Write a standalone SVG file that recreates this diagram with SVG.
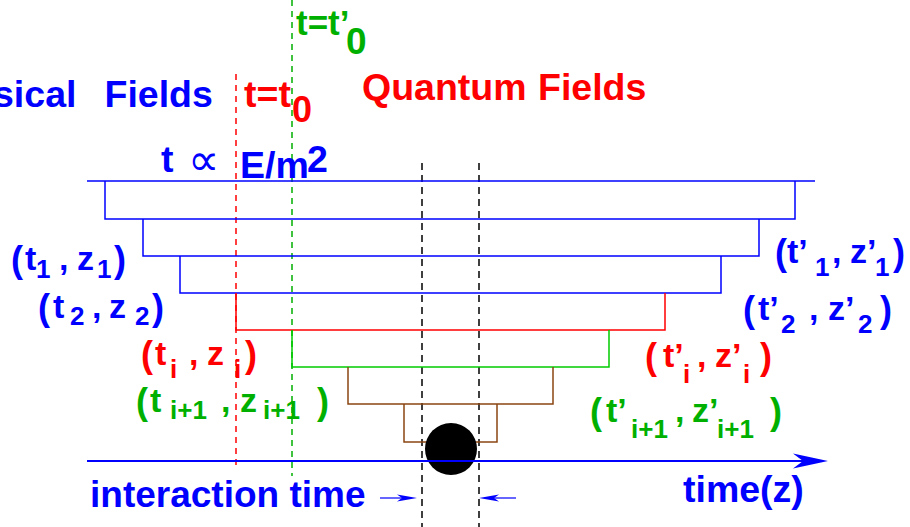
<svg xmlns="http://www.w3.org/2000/svg" width="910" height="527" viewBox="0 0 910 527">
<style>
text{font-family:"Liberation Sans",Arial,Helvetica,sans-serif;font-weight:bold}
.b{fill:#0000ff}.r{fill:#ff0000}.g{fill:#00b000}
.L{font-size:34px}.P{font-size:36px}.S{font-size:26px}.T{font-size:37.5px}
.lb{stroke:#0000ff;fill:none;stroke-width:1.5}
.lr{stroke:#ff0000;fill:none;stroke-width:1.5}
.lg{stroke:#00cc00;fill:none;stroke-width:1.5}
.ln{stroke:#8b4513;fill:none;stroke-width:1.5}
.dr{stroke:#ff0000;stroke-width:1.5;stroke-dasharray:6 5;fill:none}
.dg{stroke:#00b000;stroke-width:1.5;stroke-dasharray:6 5;fill:none}
.dk{stroke:#000;stroke-width:1.5;stroke-dasharray:7 5;fill:none}
</style>
<rect width="910" height="527" fill="#fff"/>
<g id="connectors">
<line class="dr" x1="236" y1="74" x2="236" y2="466"/>
<line class="dg" x1="292" y1="0" x2="292" y2="476"/>
<line class="dk" x1="422" y1="163" x2="422" y2="527"/>
<line class="dk" x1="479" y1="163" x2="479" y2="527"/>
<line class="lb" x1="87" y1="181" x2="815" y2="181" stroke-width="2"/>
<polyline class="lb" points="105,181 105,219 795,219 795,181"/>
<polyline class="lb" points="143,219 143,256 759,256 759,219"/>
<polyline class="lb" points="180,256 180,293 721,293 721,256"/>
<polyline class="lr" points="236,293 236,330 665,330 665,293"/>
<polyline class="lg" points="292,330 292,367 609,367 609,330"/>
<polyline class="ln" points="348,367 348,404 553,404 553,367"/>
<polyline class="ln" points="404,404 404,442 497,442 497,404"/>
</g>
<g id="particle"><circle cx="451" cy="449" r="26" fill="#000"/></g>
<g id="time-axis">
<line x1="87" y1="461" x2="806" y2="461" stroke="#0000ff" stroke-width="2"/>
<polygon points="828,461 793,453.5 803,461 793,468.5" fill="#0000ff"/>
<line x1="380" y1="498" x2="405" y2="498" stroke="#0000ff" stroke-width="1.2"/>
<polygon points="417,498 397,494.5 402,498 397,501.5" fill="#0000ff"/>
<line x1="491" y1="498" x2="516" y2="498" stroke="#0000ff" stroke-width="1.2"/>
<polygon points="479,498 499,494.5 494,498 499,501.5" fill="#0000ff"/>
</g>
<g id="titles">
<text class="b T" x="-7" y="107">sical</text>
<text class="b T" x="104.5" y="107">Fields</text>
<text class="r T" x="362" y="100">Quantum</text>
<text class="r T" x="538" y="100">Fields</text>
<text class="r T" x="244" y="107">t=t</text>
<text class="r" style="font-size:36px" x="292" y="122">0</text>
<text class="g" style="font-size:35px" x="296" y="35">t=t’</text>
<text class="g" style="font-size:37px" x="346" y="54">0</text>
<text class="b T" x="161" y="172">t</text>
<text class="b" style="font-family:'DejaVu Sans',sans-serif;font-weight:normal;font-size:44px" x="188" y="175">∝</text>
<text class="b T" x="240" y="178">E/m</text>
<text class="b T" x="307" y="172">2</text>
<text class="b" style="font-size:37px" x="90" y="507">interaction time</text>
<text class="b T" x="683" y="502">time(z)</text>
</g>
<g id="label-t1z1" class="b">
<text class="P" x="11" y="272">(</text><text class="L" x="25" y="270">t</text><text class="S" x="36" y="278">1</text>
<text class="L" x="59" y="270">,</text><text class="L" x="77" y="270">z</text><text class="S" x="97" y="278">1</text><text class="P" x="114" y="272">)</text>
</g>
<g id="label-t2z2" class="b">
<text class="P" x="38" y="320">(</text><text class="L" x="53" y="318">t</text><text class="S" x="70" y="325">2</text>
<text class="L" x="92" y="318">,</text><text class="L" x="109" y="318">z</text><text class="S" x="135" y="325">2</text><text class="P" x="152" y="320">)</text>
</g>
<g id="label-tizi" class="r">
<text class="P" x="141" y="367">(</text><text class="L" x="155" y="365">t</text><text class="S" x="170" y="378">i</text>
<text class="L" x="189" y="365">,</text><text class="L" x="207" y="365">z</text><text class="S" x="234" y="378">i</text><text class="P" x="245" y="367">)</text>
</g>
<g id="label-ti1zi1" class="g">
<text class="P" x="136" y="414">(</text><text class="L" x="150" y="412">t</text><text class="S" x="170" y="419">i+1</text>
<text class="L" x="221" y="412">,</text><text class="L" x="240" y="412">z</text><text class="S" x="263" y="419">i+1</text><text class="P" x="317" y="414">)</text>
</g>
<g id="label-tp1zp1" class="b">
<text class="P" x="775" y="265">(</text><text class="L" x="787" y="263">t’</text><text class="S" x="815" y="276">1</text>
<text class="L" x="832" y="263">,</text><text class="L" x="850" y="263">z’</text><text class="S" x="875" y="276">1</text><text class="P" x="893" y="265">)</text>
</g>
<g id="label-tp2zp2" class="b">
<text class="P" x="743" y="322">(</text><text class="L" x="758" y="320">t’</text><text class="S" x="781" y="333">2</text>
<text class="L" x="809" y="320">,</text><text class="L" x="828" y="320">z’</text><text class="S" x="858" y="333">2</text><text class="P" x="880" y="322">)</text>
</g>
<g id="label-tpizpi" class="r">
<text class="P" x="645" y="369">(</text><text class="L" x="663" y="367">t’</text><text class="S" x="683" y="383">i</text>
<text class="L" x="697" y="367">,</text><text class="L" x="715" y="367">z’</text><text class="S" x="743" y="383">i</text><text class="P" x="760" y="369">)</text>
</g>
<g id="label-tpi1zpi1" class="g">
<text class="P" x="590" y="424">(</text><text class="L" x="606" y="422">t’</text><text class="S" x="631" y="438">i+1</text>
<text class="L" x="675" y="422">,</text><text class="L" x="692" y="422">z’</text><text class="S" x="717" y="438">i+1</text><text class="P" x="770" y="424">)</text>
</g>
</svg>
